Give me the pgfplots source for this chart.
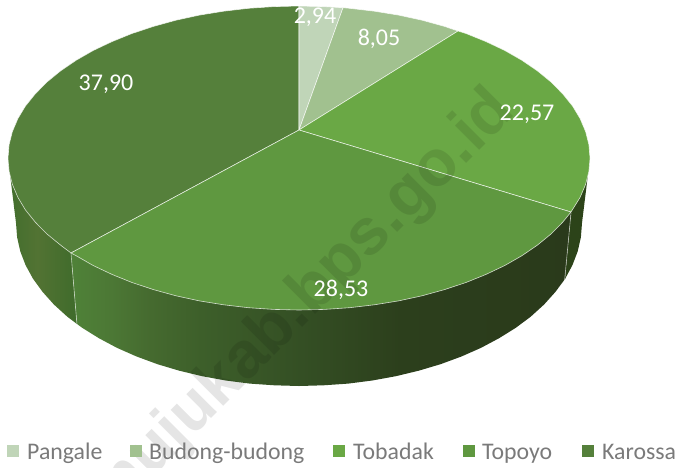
\documentclass[border=0pt]{standalone}
\usepackage{fontspec}
\setmainfont{Carlito}
\newfontfamily\wmfont{Liberation Sans}
\usepackage{pgfplots}
\pgfplotsset{compat=1.18}
\definecolor{cPangale}{HTML}{C0D5B8}
\definecolor{cBudong}{HTML}{A1C18F}
\definecolor{cTobadak}{HTML}{6AA845}
\definecolor{cTopoyo}{HTML}{5F9840}
\definecolor{cKarossa}{HTML}{55803B}
\definecolor{cLegend}{HTML}{7A7A7A}
\definecolor{sA}{RGB}{66,110,45}
\definecolor{sB}{RGB}{82,115,51}
\definecolor{sC}{RGB}{63,107,43}
\definecolor{tA}{RGB}{79,130,56}
\definecolor{tB}{RGB}{76,120,53}
\definecolor{tC}{RGB}{69,106,47}
\definecolor{tD}{RGB}{61,95,42}
\definecolor{tE}{RGB}{52,79,36}
\definecolor{tF}{RGB}{44,63,28}
\definecolor{tG}{RGB}{42,58,27}
\definecolor{uA}{RGB}{44,67,25}
\pgfdeclarehorizontalshading{sideKarossa}{100bp}{color(0bp)=(sA);
 color(25bp)=(sA); color(46bp)=(sB); color(75bp)=(sC); color(100bp)=(sC)}
\pgfdeclarehorizontalshading{sideTopoyo}{100bp}{color(0bp)=(tA);
 color(25bp)=(tA); color(29bp)=(tB); color(33bp)=(tC); color(38bp)=(tD);
 color(48bp)=(tE); color(58bp)=(tF); color(75bp)=(tG); color(100bp)=(tG)}
\begin{document}
\begin{tikzpicture}
\path[use as bounding box] (0,0) rectangle (681pt,467pt);
\clip (0,0) rectangle (681pt,467pt);
\begin{axis}[
  at={(0,0)}, anchor=south west,
  scale only axis, width=681pt, height=467pt,
  xmin=0, xmax=681, ymin=0, ymax=467, y dir=reverse,
  hide axis, clip=false,
  wedge/.style={draw=white, draw opacity=0.75, line width=0.6pt, line join=round},
  sideline/.style={draw=white, draw opacity=0.6, line width=0.6pt, no markers},
  legsq/.style={only marks, mark=square*, mark size=5.8pt, color=#1, mark options={draw=#1, fill=#1, line width=0pt}},
]
% --- sides
\addplot[draw=none, shading=sideKarossa, no markers] coordinates {
 (8,158)(16,223)(17.1,237.2)(20.3,251.4)(25.6,265.2)(33,278.7)(42.6,291.9)(53.9,304.5)(67.2,316.6)(77,324)(71,253)(60,180)};
\addplot[draw=none, shading=sideTopoyo, no markers] coordinates {
 (71,253)(77,324)(82.2,327.8)(98.9,338.2)(117.1,347.9)(136.6,356.5)(157.5,364.2)(179.3,370.7)(202.2,376.2)(225.7,380.5)(249.8,383.6)(274.4,385.3)(299,386)(323.6,385.3)(348.2,383.6)(372.3,380.5)(395.8,376.2)(418.7,370.7)(440.5,364.2)(461.4,356.5)(480.9,347.9)(499.1,338.2)(515.8,327.8)(530.8,316.6)(544.1,304.5)(555.4,291.9)(565,279)(571,212)(299,200)};
\addplot[draw=none, fill=uA, no markers] coordinates {
 (571,212)(565,279)(572.4,265.2)(577.7,251.4)(580.9,237.2)(582,223)(590,158)(560,160)};
\addplot[sideline] coordinates {(71,253)(77,325)};
\addplot[sideline] coordinates {(571,213)(564.5,281)};
% --- top face
\addplot[wedge, fill=cKarossa, no markers] coordinates {
 (299,130)(71,253)(60.7,245.2)(47,234)(35.4,222.3)(25.5,210)(17.9,197.4)(12.4,184.4)(9.1,171.2)(8,158)(9.1,144.8)(12.4,131.6)(17.9,118.6)(25.5,106)(35.4,93.7)(47,82)(60.7,70.8)(76.1,60.3)(93.2,50.5)(112,41.6)(132,33.5)(153.5,26.4)(176,20.2)(199.5,15.1)(223.7,11.2)(248.5,8.3)(273.6,6.6)(299,6)(299,130)};
\addplot[wedge, fill=cPangale, no markers] coordinates {
 (299,130)(299,6)(324.4,6.6)(343,7.7)(299,130)};
\addplot[wedge, fill=cBudong, no markers] coordinates {
 (299,130)(343,7.7)(349.5,8.3)(374.3,11.2)(398.5,15.1)(422,20.2)(444.5,26.4)(458,31)(299,130)};
\addplot[wedge, fill=cTobadak, no markers] coordinates {
 (299,130)(458,31)(466,33.5)(486,41.6)(504.8,50.5)(521.9,60.3)(537.3,70.8)(551,82)(562.6,93.7)(572.5,106)(580.1,118.6)(585.6,131.6)(588.9,144.8)(590,158)(588.9,171.2)(585.6,184.4)(580.1,197.4)(571,212)(299,130)};
\addplot[wedge, fill=cTopoyo, no markers] coordinates {
 (299,130)(571,212)(562.6,222.3)(551,234)(537.3,245.2)(521.9,255.7)(504.8,265.5)(486,274.4)(466,282.5)(444.5,289.6)(422,295.8)(398.5,300.9)(374.3,304.8)(349.5,307.7)(324.4,309.4)(299,310)(273.6,309.4)(248.5,307.7)(223.7,304.8)(199.5,300.9)(176,295.8)(153.5,289.6)(132,282.5)(112,274.4)(93.2,265.5)(76.1,255.7)(71,253)(299,130)};
% --- watermark
\node[anchor=base east, inner sep=0pt, rotate=45, text=black, text opacity=0.1, font=\wmfont\bfseries\fontsize{65}{70}\selectfont] at (axis cs:517,113) {mamujukab.bps.go.id};
% --- data labels
\node[anchor=base, text=white, font=\fontsize{24}{28}\selectfont] at (axis cs:315,23) {2,94};
\node[anchor=base, text=white, font=\fontsize{24}{28}\selectfont] at (axis cs:379,45) {8,05};
\node[anchor=base, text=white, font=\fontsize{24}{28}\selectfont] at (axis cs:527,120) {22,57};
\node[anchor=base, text=white, font=\fontsize{24}{28}\selectfont] at (axis cs:341,296) {28,53};
\node[anchor=base, text=white, font=\fontsize{24}{28}\selectfont] at (axis cs:106,90) {37,90};
% --- legend
\addplot[legsq=cPangale] coordinates {(13,451)};
\addplot[legsq=cBudong] coordinates {(136,451)};
\addplot[legsq=cTobadak] coordinates {(339,451)};
\addplot[legsq=cTopoyo] coordinates {(469,451)};
\addplot[legsq=cKarossa] coordinates {(588,451)};
\node[anchor=base west, inner sep=0pt, text=cLegend, font=\fontsize{23.8}{27}\selectfont] at (axis cs:27,459) {Pangale};
\node[anchor=base west, inner sep=0pt, text=cLegend, font=\fontsize{23.8}{27}\selectfont] at (axis cs:149,459) {Budong-budong};
\node[anchor=base west, inner sep=0pt, text=cLegend, font=\fontsize{23.8}{27}\selectfont] at (axis cs:353,459) {Tobadak};
\node[anchor=base west, inner sep=0pt, text=cLegend, font=\fontsize{23.8}{27}\selectfont] at (axis cs:482,459) {Topoyo};
\node[anchor=base west, inner sep=0pt, text=cLegend, font=\fontsize{23.8}{27}\selectfont] at (axis cs:602,459) {Karossa};
\end{axis}
\end{tikzpicture}
\end{document}
